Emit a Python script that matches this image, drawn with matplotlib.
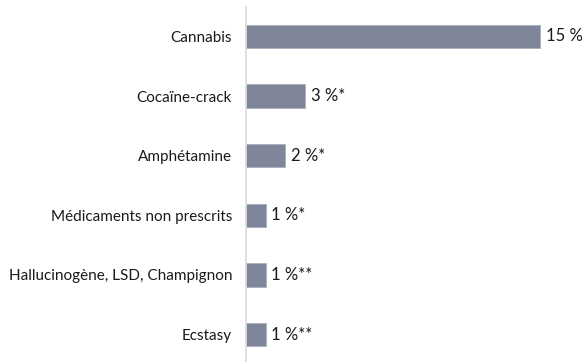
import matplotlib
matplotlib.use("Agg")
import matplotlib.pyplot as plt

categories = ["Cannabis", "Cocaïne-crack", "Amphétamine",
              "Médicaments non prescrits", "Hallucinogène, LSD, Champignon", "Ecstasy"]
values = [15, 3, 2, 1, 1, 1]
value_labels = ["15 %", "3 %*", "2 %*", "1 %*", "1 %**", "1 %**"]

plt.rcParams["font.family"] = ["Lato", "DejaVu Sans"]

fig = plt.figure(figsize=(5.86, 3.62), dpi=100)
ax = fig.add_axes([246 / 586, -0.0064, (586 - 246) / 586, 0.988])

y = list(range(len(categories)))
ax.barh(y, values, height=0.39, color="#7f8699", edgecolor="#a9aebb", linewidth=0.6)
ax.set_ylim(len(categories) - 0.5, -0.5)
ax.set_xlim(0, (586 - 246) / 19.6)

for yi, v, lab in zip(y, values, value_labels):
    ax.text(v + 0.3, yi, lab, va="center", ha="left", fontsize=12, color="#1a1a1a")

ax.set_yticks(y)
ax.set_yticklabels(categories, fontsize=11, color="#1a1a1a")
ax.tick_params(axis="y", length=0, pad=10)
ax.set_xticks([])
for s in ["top", "right", "bottom"]:
    ax.spines[s].set_visible(False)
ax.spines["left"].set_color("#d9d9d9")
ax.spines["left"].set_linewidth(1.2)

fig.savefig("out.png", dpi=100)
